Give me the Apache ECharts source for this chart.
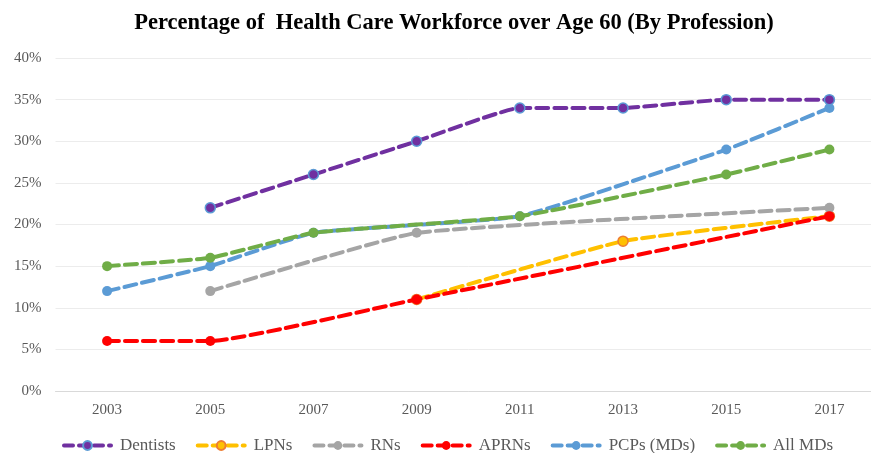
<!DOCTYPE html>
<html>
<head>
    <meta charset="utf-8">
    <title>ECharts</title>
    <script src="https://cdn.jsdelivr.net/npm/echarts@6/dist/echarts.min.js"></script>
    <style>
        html, body { margin: 0; padding: 0; background: #fff; overflow: hidden; }
    </style>
</head>
<body>
    <!-- slightly wider than the window: the plot area runs off the right edge, as in the original -->
    <div id="main" style="width: 881px;height:453px;"></div>
    <script type="text/javascript">
        var chart = echarts.init(document.getElementById('main'));

        // data (percent)
        var years = ['2003', '2005', '2007', '2009', '2011', '2013', '2015', '2017'];
        var yTicks = [0, 5, 10, 15, 20, 25, 30, 35, 40];
        var dentists = [null, 22, 26, 30, 34, 34, 35, 35];
        var lpns     = [null, null, null, 11, null, 18, null, 21];
        var rns      = [null, 12, null, 19, null, null, null, 22];
        var aprns    = [6, 6, null, 11, null, null, null, 21];
        var pcps     = [12, 15, 19, null, 21, null, 29, 34];
        var allMds   = [15, 16, 19, null, 21, null, 26, 29];

        var serif = '"Liberation Serif", "DejaVu Serif", serif';

        function mkSeries(name, data, color, border, z) {
            return {
                name: name,
                type: 'line',
                data: data,
                connectNulls: true,
                smooth: 0.12,
                symbol: 'circle',
                symbolSize: 10,
                z: z,
                lineStyle: { color: color, width: 4, type: [12, 6], cap: 'round' },
                itemStyle: {
                    color: color,
                    borderColor: border || color,
                    borderWidth: border ? 1.5 : 0
                },
                emphasis: { disabled: true }
            };
        }

        var option = {
            backgroundColor: '#fff',
            animation: false,
            title: {
                text: 'Percentage of  Health Care Workforce over Age 60 (By Profession)',
                left: 449,
                textAlign: 'center',
                top: 7,
                textStyle: {
                    fontFamily: serif,
                    fontWeight: 'bold',
                    fontSize: 22.5,
                    color: '#000'
                }
            },
            legend: {
                top: 432,
                left: 57,
                itemWidth: 47,
                itemHeight: 11,
                itemGap: 20,
                lineStyle: { width: 4, type: [9, 6] },
                textStyle: { fontFamily: serif, fontSize: 17, color: '#595959', padding: [0, 0, 0, 4] },
                data: ['Dentists', 'LPNs', 'RNs', 'APRNs', 'PCPs (MDs)', 'All MDs']
            },
            grid: {
                left: 55.5,
                top: 58,
                right: 0,
                height: 333,
                containLabel: false
            },
            xAxis: {
                type: 'category',
                data: years,
                boundaryGap: true,
                axisLine: { lineStyle: { color: '#d9d9d9', width: 1 } },
                axisTick: { show: false },
                axisLabel: {
                    fontFamily: serif,
                    fontSize: 15,
                    color: '#595959',
                    margin: 12
                }
            },
            yAxis: {
                type: 'value',
                min: yTicks[0],
                max: yTicks[yTicks.length - 1],
                interval: 5,
                axisLine: { show: false },
                axisTick: { show: false },
                splitLine: { lineStyle: { color: '#ececec', width: 1 } },
                axisLabel: {
                    fontFamily: serif,
                    fontSize: 15,
                    color: '#595959',
                    margin: 14,
                    formatter: '{value}%'
                }
            },
            series: [
                mkSeries('Dentists', dentists, '#7030A0', '#5B9BD5', 8),
                mkSeries('LPNs', lpns, '#FFC000', '#ED7D31', 2),
                mkSeries('RNs', rns, '#A5A5A5', null, 3),
                mkSeries('APRNs', aprns, '#FF0000', null, 4),
                mkSeries('PCPs (MDs)', pcps, '#5B9BD5', null, 5),
                mkSeries('All MDs', allMds, '#70AD47', null, 6)
            ]
        };

        chart.setOption(option);
    </script>
</body>
</html>
